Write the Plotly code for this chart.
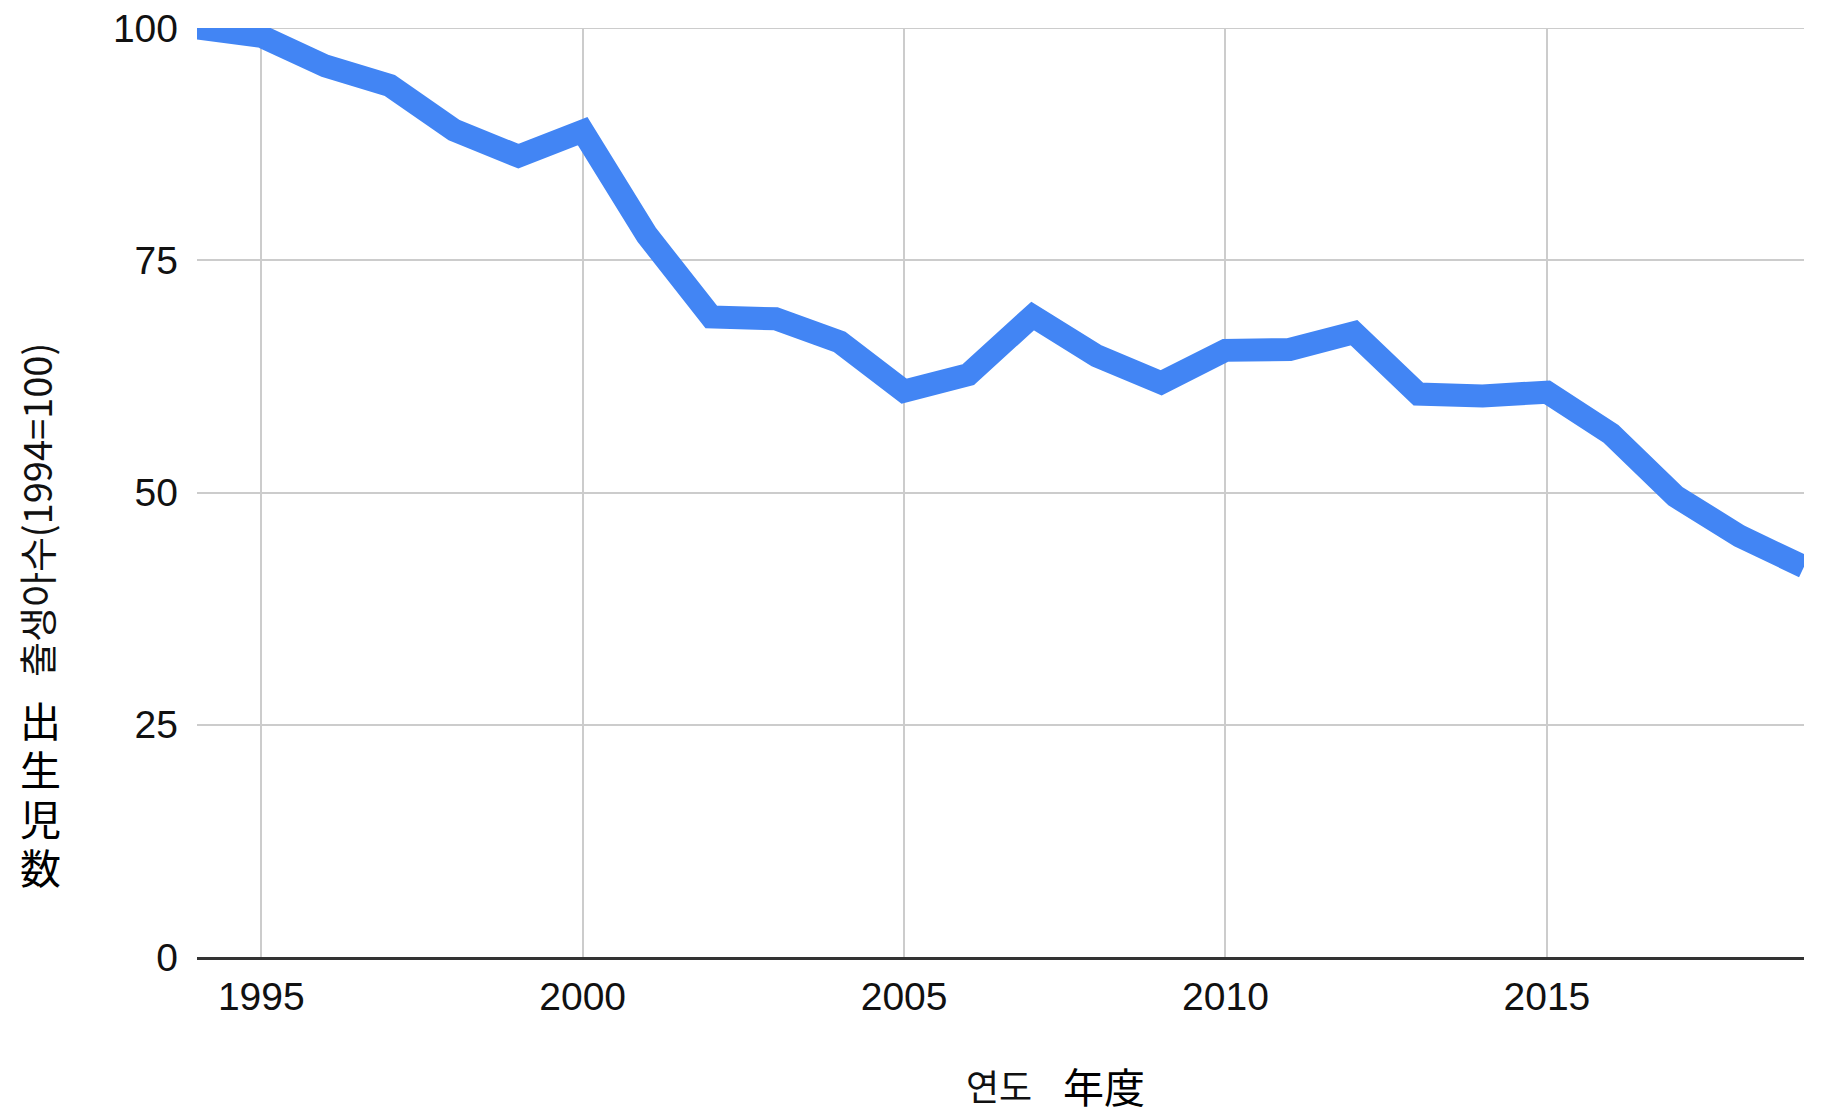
import plotly.graph_objects as go

# 출생아수 (1994=100)
years = list(range(1994, 2020))
births_index = [
    100.0, 99.1, 95.9, 93.8, 89.0, 86.2, 88.9, 77.7, 68.9, 68.7,
    66.2, 60.9, 62.7, 69.0, 64.7, 61.8, 65.3, 65.4, 67.2, 60.6,
    60.4, 60.8, 56.3, 49.6, 45.3, 42.0,
]
x_ticks = [1995, 2000, 2005, 2010, 2015]
y_ticks = [0, 25, 50, 75, 100]

y_title_ko = "출생아수(1994=100)"
y_title_ja = ["出", "生", "児", "数"]
x_title_ko = "연도"
x_title_ja = "年度"

W, H = 1825, 1116
OFF = 8  # page body margin in the browser
# plot rectangle wanted on the page (left, top, right, bottom)
PX0, PY0, PX1, PY1 = 197, 28, 1804, 957
L, T = PX0 - OFF, PY0 - OFF
R, B = W - (PX1 - OFF), H - (PY1 - OFF)


def px_to_paper(px, py):
    # page pixel position -> paper coordinates of the plot area
    return (px - PX0) / (PX1 - PX0), (PY1 - py) / (PY1 - PY0)


LATIN = "Liberation Sans, Arial, Helvetica, sans-serif"
CJK_KR = "Noto Sans CJK KR, Noto Sans CJK JP, sans-serif"
CJK_JP = "Noto Sans CJK JP, sans-serif"
GRID = "#cccccc"

fig = go.Figure()
fig.add_trace(
    go.Scatter(
        x=years,
        y=births_index,
        mode="lines",
        line=dict(color="#4285F4", width=23),
        showlegend=False,
        hoverinfo="skip",
    )
)

fig.update_xaxes(
    range=[1994, 2019],
    tickvals=x_ticks,
    ticks="",
    showgrid=True,
    gridcolor=GRID,
    gridwidth=2,
    zeroline=False,
    showline=True,
    linecolor="#333333",
    linewidth=3,
    tickfont=dict(family=LATIN, size=39, color="#111111"),
    ticklabelstandoff=3,
    ticklabeloverflow="allow",
    automargin=False,
)
fig.update_yaxes(
    range=[0, 100],
    tickvals=y_ticks,
    ticks="",
    showgrid=True,
    gridcolor=GRID,
    gridwidth=2,
    zeroline=False,
    showline=False,
    tickfont=dict(family=LATIN, size=39, color="#111111"),
    ticklabelstandoff=18,
    ticklabeloverflow="allow",
    automargin=False,
)

# top gridline sits on the plot edge, plotly drops it there
fig.add_shape(
    type="line", xref="paper", yref="y",
    x0=0, x1=1, y0=y_ticks[-1], y1=y_ticks[-1],
    line=dict(color=GRID, width=2), layer="below",
)

annotations = []
ax, ay = px_to_paper(35, 510)
annotations.append(dict(
    text=y_title_ko, x=ax, y=ay, xref="paper", yref="paper",
    textangle=-90, showarrow=False, xanchor="center", yanchor="middle",
    font=dict(family=CJK_KR, size=38, color="#111111"),
))
# vertical Japanese title, one character per row
for i, ch in enumerate(y_title_ja):
    ax, ay = px_to_paper(40, 719 + i * 49)
    annotations.append(dict(
        text=ch, x=ax, y=ay, xref="paper", yref="paper",
        showarrow=False, xanchor="center", yanchor="middle",
        font=dict(family=CJK_JP, size=41, color="#000000"),
    ))
ax, ay = px_to_paper(999, 1085)
annotations.append(dict(
    text=x_title_ko, x=ax, y=ay, xref="paper", yref="paper",
    showarrow=False, xanchor="center", yanchor="middle",
    font=dict(family=CJK_KR, size=36, color="#111111"),
))
ax, ay = px_to_paper(1104, 1085)
annotations.append(dict(
    text=x_title_ja, x=ax, y=ay, xref="paper", yref="paper",
    showarrow=False, xanchor="center", yanchor="middle",
    font=dict(family=CJK_JP, size=41, color="#000000"),
))

fig.update_layout(
    width=W,
    height=H,
    margin=dict(l=L, r=R, t=T, b=B, pad=0, autoexpand=False),
    paper_bgcolor="white",
    plot_bgcolor="white",
    annotations=annotations,
)

fig.write_html("out.html")
